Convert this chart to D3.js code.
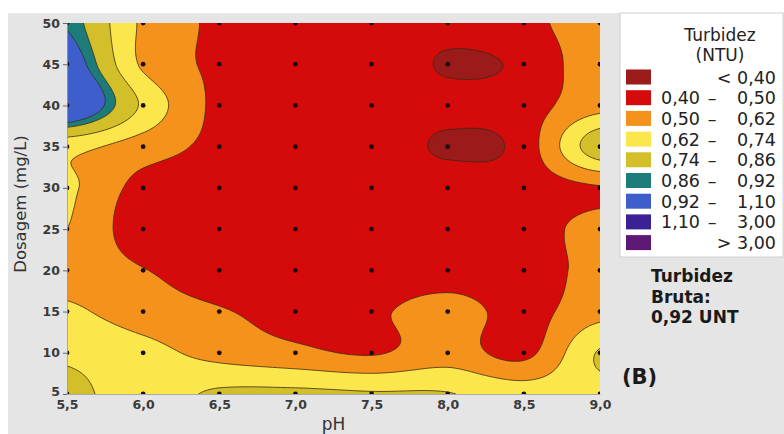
<!DOCTYPE html>
<html>
<head>
<meta charset="utf-8">
<script src="https://cdnjs.cloudflare.com/ajax/libs/d3/7.8.5/d3.min.js"></script>
<style>
  body { margin: 0; background: #fff; }
  text { font-family: "DejaVu Sans", sans-serif; }
</style>
</head>
<body>
<svg width="784" height="434"></svg>
<script>
// pH (x) and dosagem (y) grid
var ph = [5.5, 6.0, 6.5, 7.0, 7.5, 8.0, 8.5, 9.0];
var dosagem = [5, 10, 15, 20, 25, 30, 35, 40, 45, 50];
var phLabels = ["5,5", "6,0", "6,5", "7,0", "7,5", "8,0", "8,5", "9,0"];

// turbidez (NTU) por dosagem, colunas = pH 5,5 ... 9,0
var t5  = [0.77, 0.69, 0.758, 0.764, 0.75, 0.745, 0.68, 0.70];
var t10 = [0.72, 0.66, 0.58, 0.53, 0.49, 0.56, 0.47, 0.75];
var t15 = [0.64, 0.56, 0.51, 0.46, 0.48, 0.55, 0.46, 0.58];
var t20 = [0.58, 0.505, 0.44, 0.43, 0.43, 0.44, 0.44, 0.54];
var t25 = [0.62, 0.43, 0.43, 0.43, 0.43, 0.44, 0.44, 0.55];
var t30 = [0.64, 0.46, 0.44, 0.44, 0.44, 0.45, 0.44, 0.49];
var t35 = [0.66, 0.56, 0.47, 0.44, 0.47, 0.385, 0.44, 0.82];
var t40 = [1.08, 0.72, 0.47, 0.44, 0.45, 0.43, 0.45, 0.58];
var t45 = [1.00, 0.60, 0.48, 0.45, 0.47, 0.39, 0.42, 0.57];
var t50 = [0.91, 0.60, 0.48, 0.45, 0.45, 0.43, 0.47, 0.56];
var turbidez = [t5, t10, t15, t20, t25, t30, t35, t40, t45, t50];

var limites = [0.40, 0.50, 0.62, 0.74, 0.86, 0.92, 1.10, 3.00];
var cores = ["#9b1b1b", "#d50a0a", "#f4921c", "#fbe74c", "#d3bf2a",
             "#1b7c7a", "#3e5fcb", "#3b2196", "#5c1873"];
var legendLabels = [["", "< 0,40"], ["0,40", "0,50"], ["0,50", "0,62"], ["0,62", "0,74"],
                    ["0,74", "0,86"], ["0,86", "0,92"], ["0,92", "1,10"], ["1,10", "3,00"], ["", "> 3,00"]];

var svg = d3.select("svg");

// background panel
svg.append("rect").attr("x", 8).attr("y", 13).attr("width", 776).attr("height", 421).attr("fill", "#e5e5e5");

var x = d3.scaleLinear().domain([5.5, 9.0]).range([67, 600]);
var y = d3.scaleLinear().domain([5, 50]).range([394, 23]);

svg.append("clipPath").attr("id", "plot")
  .append("rect").attr("x", x(5.5)).attr("y", y(50))
  .attr("width", x(9.0) - x(5.5)).attr("height", y(5) - y(50));

// smooth the grid for drawing (Catmull-Rom)
function cr(p0, p1, p2, p3, t) {
  return 0.5 * (2 * p1 + (-p0 + p2) * t + (2 * p0 - 5 * p1 + 4 * p2 - p3) * t * t +
    (-p0 + 3 * p1 - 3 * p2 + p3) * t * t * t);
}
function val(i, j) {
  i = Math.max(0, Math.min(ph.length - 1, i));
  j = Math.max(0, Math.min(dosagem.length - 1, j));
  return turbidez[j][i];
}
function sample(gx, gy) {
  var i = Math.min(Math.floor(gx), ph.length - 2), j = Math.min(Math.floor(gy), dosagem.length - 2);
  var tx = gx - i, ty = gy - j, rows = [];
  for (var k = -1; k <= 2; k++) {
    rows.push(cr(val(i - 1, j + k), val(i, j + k), val(i + 1, j + k), val(i + 2, j + k), tx));
  }
  return cr(rows[0], rows[1], rows[2], rows[3], ty);
}

var res = 20;
var nx = (ph.length - 1) * res + 1, ny = (dosagem.length - 1) * res + 1;
var grid = new Array(nx * ny);
for (var r = 0; r < ny; r++) {
  for (var c = 0; c < nx; c++) {
    grid[r * nx + c] = sample(c / res, (dosagem.length - 1) - r / res);
  }
}

var cx = d3.scaleLinear().domain([0.5, nx - 0.5]).range([x(5.5), x(9.0)]);
var cy = d3.scaleLinear().domain([0.5, ny - 0.5]).range([y(50), y(5)]);
var path = d3.geoPath(d3.geoTransform({
  point: function(px, py) { this.stream.point(cx(px), cy(py)); }
}));

var contours = d3.contours().size([nx, ny]).thresholds(limites)(grid);

var g = svg.append("g").attr("clip-path", "url(#plot)");
g.append("rect").attr("x", x(5.5)).attr("y", y(50))
  .attr("width", x(9.0) - x(5.5)).attr("height", y(5) - y(50)).attr("fill", cores[0]);
g.selectAll(".band")
  .data(contours)
  .enter().append("path")
    .attr("class", "band")
    .attr("d", path)
    .attr("fill", (d, i) => cores[i + 1])
    .attr("stroke", "#3d2a12")
    .attr("stroke-width", 0.8)
    .attr("stroke-linejoin", "round");

// design points
var pts = [];
dosagem.forEach((dd, j) => ph.forEach((p, i) => pts.push([p, dd])));
g.selectAll(".pt")
  .data(pts)
  .enter().append("circle")
    .attr("class", "pt")
    .attr("cx", d => x(d[0]))
    .attr("cy", d => y(d[1]))
    .attr("r", 2.4)
    .attr("fill", "#1c0c0c");

// axes
var yAxis = svg.append("g").attr("transform", "translate(" + x(5.5) + ",0)")
  .call(d3.axisLeft(y).tickValues(dosagem).tickSize(4).tickPadding(3));
var xAxis = svg.append("g").attr("transform", "translate(0," + y(5) + ")")
  .call(d3.axisBottom(x).tickValues(ph).tickFormat((d, i) => phLabels[i]).tickSize(0).tickPadding(6));
[yAxis, xAxis].forEach(a => {
  a.select(".domain").attr("stroke", "#9a9a9a").attr("stroke-width", 0.8);
  a.selectAll(".tick line").attr("stroke", "#666");
  a.selectAll(".tick text").attr("fill", "#3a3a3a").attr("font-size", 12.5).attr("font-weight", 700)
    .style("font-family", "'DejaVu Sans', sans-serif");
});
yAxis.selectAll(".tick text").filter(d => d === 5).attr("dy", "0.1em");

svg.append("text").attr("x", (x(5.5) + x(9.0)) / 2).attr("y", 430)
  .attr("text-anchor", "middle").attr("font-size", 17).attr("fill", "#333")
  .text("pH");
svg.append("text").attr("transform", "translate(26,204) rotate(-90)")
  .attr("text-anchor", "middle").attr("font-size", 16.5).attr("fill", "#333")
  .text("Dosagem (mg/L)");

// legend
var lg = svg.append("g");
lg.append("rect").attr("x", 620).attr("y", 13).attr("width", 163).attr("height", 244)
  .attr("fill", "#fff").attr("stroke", "#cfcfcf");
lg.append("text").attr("x", 720).attr("y", 41).attr("text-anchor", "middle")
  .attr("font-size", 17).attr("fill", "#222").text("Turbidez");
lg.append("text").attr("x", 720).attr("y", 61).attr("text-anchor", "middle")
  .attr("font-size", 17).attr("fill", "#222").text("(NTU)");
var row = lg.selectAll(".leg").data(legendLabels).enter().append("g")
  .attr("transform", (d, i) => "translate(0," + (77 + i * 20.7) + ")");
row.append("rect").attr("x", 626).attr("y", -7.5).attr("width", 25).attr("height", 15)
  .attr("fill", (d, i) => cores[i]);
row.append("text").attr("x", 700).attr("y", 6.5).attr("text-anchor", "end")
  .attr("font-size", 17.5).attr("fill", "#222").text(d => d[0]);
row.append("text").attr("x", 712).attr("y", 6.5).attr("text-anchor", "middle")
  .attr("font-size", 17.5).attr("fill", "#222").text(d => d[0] ? "–" : "");
row.append("text").attr("x", 776).attr("y", 6.5).attr("text-anchor", "end")
  .attr("font-size", 17.5).attr("fill", "#222").text(d => d[1]);

var nota = ["Turbidez", "Bruta:", "0,92 UNT"];
svg.selectAll(".nota").data(nota).enter().append("text")
  .attr("x", 651).attr("y", (d, i) => 282 + i * 20.5)
  .attr("font-size", 17).attr("font-weight", 700).attr("fill", "#1a1a1a").text(d => d);

svg.append("text").attr("x", 622).attr("y", 384)
  .attr("font-size", 21).attr("font-weight", 700).attr("fill", "#1a1a1a").text("(B)");
</script>
</body>
</html>
